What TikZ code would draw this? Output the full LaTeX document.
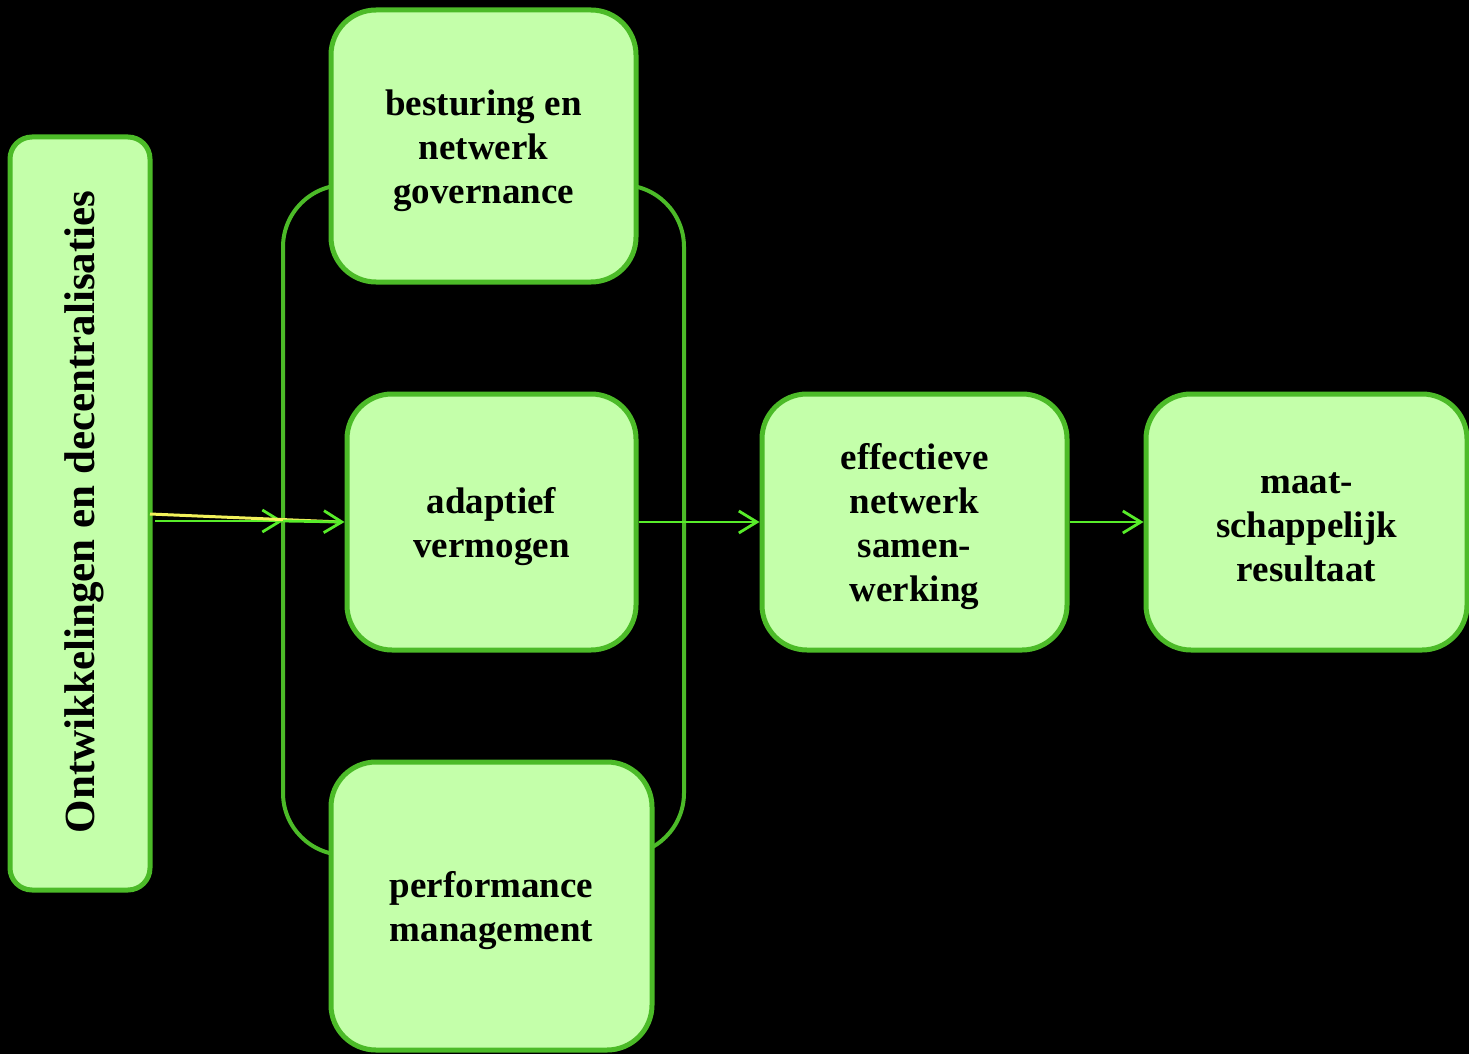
\documentclass[tikz,border=0pt]{standalone}
\usepackage{fontspec}
\setmainfont{Liberation Serif}
\usetikzlibrary{arrows.meta}
\definecolor{boxfill}{HTML}{C4FFAA}
\definecolor{boxline}{HTML}{4CBB28}
\definecolor{arrowgreen}{HTML}{58EC2A}
\definecolor{lineyellow}{HTML}{F2F25A}
\tikzset{
  box/.style={draw=boxline, fill=boxfill, line width=5pt, rounded corners=45pt, inner sep=0pt},
  boxtext/.style={align=center, font=\fontsize{37}{44}\selectfont\bfseries, inner sep=0pt},
  flow/.style={draw=arrowgreen, line width=2.8pt, -{Straight Barb[length=18pt,width=22pt,line width=2.8pt]}},
}
\begin{document}
\begin{tikzpicture}[x=1pt,y=-1pt]
\fill[black] (0,0) rectangle (1469,1054);
\useasboundingbox (0,0) rectangle (1469,1054);
% loop behind
\draw[boxline, line width=4pt, rounded corners=62pt] (283,185) rectangle (684,855);
\node[box, rounded corners=22pt, minimum width=140pt, minimum height=753pt] (left) at (80,513.5) {};
\node[rotate=90, font=\fontsize{43}{50}\selectfont\bfseries] (lefttext) at (84,512) {Ontwikkelingen en decentralisaties};
\node[box, minimum width=305pt, minimum height=272pt] (top) at (483.5,146) {};
\node[box, minimum width=289pt, minimum height=256pt] (mid) at (491.5,522) {};
\node[box, minimum width=321pt, minimum height=288pt] (bot) at (491.5,906) {};
\node[box, minimum width=305pt, minimum height=256pt] (eff) at (914.5,522) {};
\node[box, minimum width=321pt, minimum height=256pt] (maat) at (1306.5,522) {};
\node[boxtext] (toptext) at ([yshift=-5pt]top.center) {besturing en\\netwerk\\governance};
\node[boxtext] (midtext) at ([yshift=-5pt]mid.center) {adaptief\\vermogen};
\node[boxtext] (bottext) at ([yshift=-5pt]bot.center) {performance\\management};
\node[boxtext] (efftext) at ([yshift=-5pt]eff.center) {effectieve\\netwerk\\samen-\\werking};
\node[boxtext] (maattext) at ([yshift=-5pt]maat.center) {maat-\\schappelijk\\resultaat};
\coordinate (ls) at (155,521);
\coordinate (loopw) at (283,521);
\coordinate (ys) at (150,514);
\draw[flow] (ls) -- (loopw);
\draw[lineyellow, line width=3pt] (ys) -- ([xshift=-4pt]mid.west);
\draw[flow] (loopw) -- (mid.west);
\draw[flow] (mid.east) -- (eff.west);
\draw[flow] (eff.east) -- (maat.west);
\end{tikzpicture}
\end{document}
